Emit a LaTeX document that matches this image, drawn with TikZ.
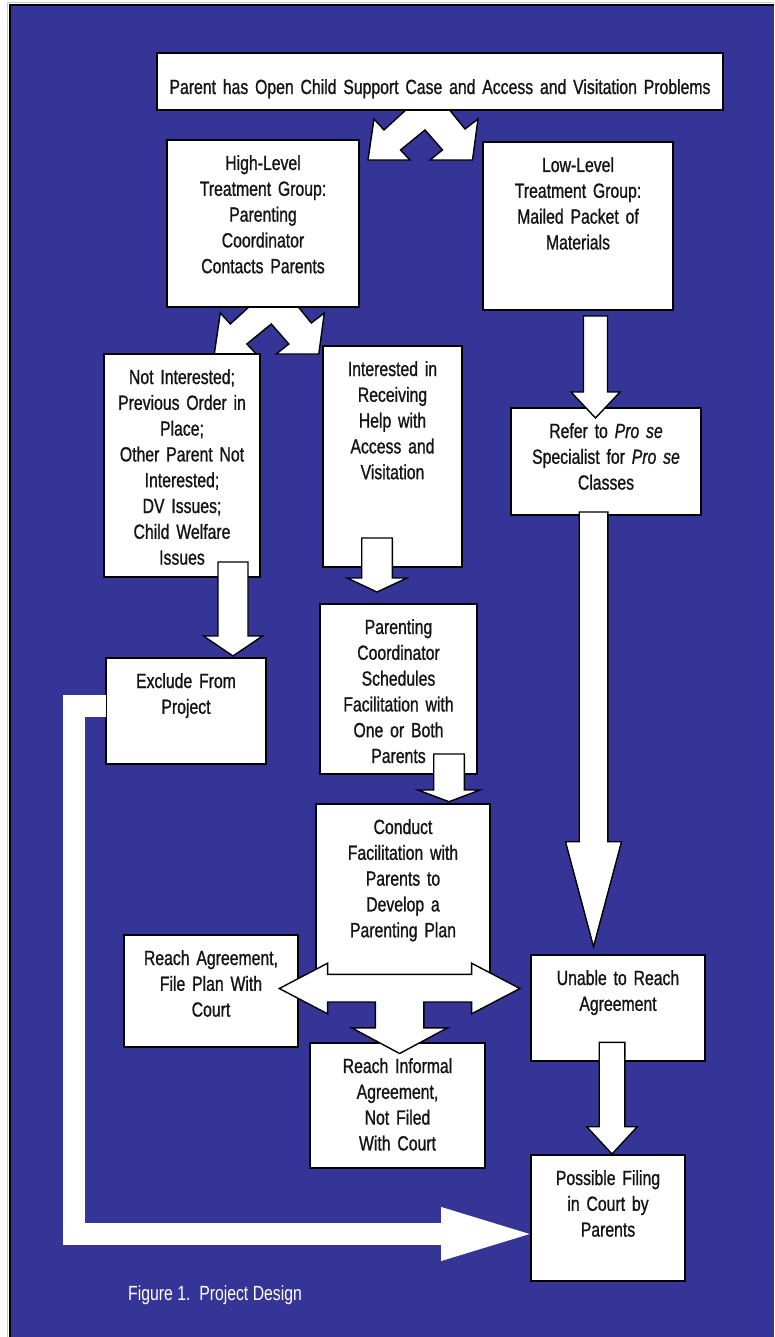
\documentclass[tikz,border=0pt]{standalone}
\usepackage{fontspec}
\setmainfont{Liberation Sans}[FakeStretch=0.77]
\newfontfamily\boxfamily{Liberation Sans}[FakeStretch=0.77, FakeBold=1, WordSpace=0.55]
\usepackage{tikz}
\usetikzlibrary{arrows.meta, calc}
\definecolor{paneblue}{RGB}{53, 53, 151}
\definecolor{framegray}{RGB}{200, 200, 200}
\definecolor{inkblack}{RGB}{20, 20, 20}

% block arrow pointing down: from, to, shaft half width, head half width, head length
\newcommand{\downblock}[5]{%
  \draw[blockarrow] ($(#1)+(-#3,0)$) -- ($(#2)+(-#3,-#5)$) -- ($(#2)+(-#4,-#5)$) -- (#2)
    -- ($(#2)+(#4,-#5)$) -- ($(#2)+(#3,-#5)$) -- ($(#1)+(#3,0)$) -- cycle;}
% bent two-headed arrow under a box
\newcommand{\splitblock}[1]{%
  \draw[blockarrow, shift={(#1)}] (0,0) -- (6,-41) -- (16,-30) -- (40,-52) -- (80,-52) -- (97,-31)
    -- (110,-41) -- (104.5,0) -- (62,0) -- (74.5,-10) -- (57,-30) -- (32.5,-10) -- (42,0) -- cycle;}

\begin{document}
\begin{tikzpicture}[
    x=1pt, y=-1pt,
    box/.style 2 args={draw=black, line width=2pt, fill=white, text=inkblack, inner sep=0pt, outer sep=0pt, anchor=north west, text width=#1pt, text height=30pt, text depth={#2pt-30pt}, align=center, font=\boxfamily\fontsize{20.5}{25.8}\selectfont},
    blockarrow/.style={draw=black, fill=white, line width=1.4pt, line join=miter},
    loopline/.style={draw=white, line width=22pt, line join=miter, -{Triangle[length=100pt, width=46pt]}}
  ]
  \useasboundingbox (0,0) rectangle (774,1337);
  \fill[white] (0,0) rectangle (774,1337);
  \fill[paneblue] (10,5) rectangle (774,1337);
  \draw[framegray, line width=1pt] (7.5,1337) -- (7.5,2.5) -- (774,2.5);
  \draw[black, line width=2pt] (10,1337) -- (10,5) -- (774,5);

  % split arrows sit behind the boxes
  \coordinate (split-top) at (368,160);
  \coordinate (split-high) at (214.3,354);
  \splitblock{split-top}
  \splitblock{split-high}

  \node[box={566}{57}, text height=41pt, text depth=16pt] (top) at (157,53) {Parent has Open Child Support Case and Access and Visitation Problems};
  \node[box={192}{167}] (high) at (167,140) {High-Level\\Treatment Group:\\Parenting\\Coordinator\\Contacts Parents};
  \node[box={190}{168}] (low) at (483,142) {Low-Level\\Treatment Group:\\Mailed Packet of\\Materials};
  \node[box={156}{223}] (notint) at (104,354) {Not Interested;\\Previous Order in\\Place;\\Other Parent Not\\Interested;\\DV Issues;\\Child Welfare\\Issues};
  \node[box={139}{221}] (interest) at (323,346) {Interested in\\Receiving\\Help with\\Access and\\Visitation};
  \node[box={190}{107}] (refer) at (511,408) {Refer to \textit{Pro se}\\Specialist for \textit{Pro se}\\Classes};
  \node[box={160}{106}] (exclude) at (106,658) {Exclude From\\Project};
  \node[box={157}{170}] (sched) at (320,604) {Parenting\\Coordinator\\Schedules\\Facilitation with\\One or Both\\Parents};
  \node[box={174}{171}] (conduct) at (316,804) {Conduct\\Facilitation with\\Parents to\\Develop a\\Parenting Plan};
  \node[box={174}{112}] (agree) at (124,935) {Reach Agreement,\\File Plan With\\Court};
  \node[box={174}{106}] (unable) at (531,955) {Unable to Reach\\Agreement};
  \node[box={175}{125}] (informal) at (310,1043) {Reach Informal\\Agreement,\\Not Filed\\With Court};
  \node[box={154}{126}] (filing) at (531,1155) {Possible Filing\\in Court by\\Parents};

  \node[anchor=base west, text=white, inner sep=0pt, font=\fontsize{20.5}{25.8}\selectfont] (caption) at (128,1300) {Figure 1.\ \ Project Design};

  % excluded cases loop round to court filing
  \draw[loopline] ($(exclude.west)+(0,-5)$) -- ++(-32,0) |- ($(filing.west)+(10,16)$);

  % three-way arrow out of the facilitation
  \coordinate (fork) at (399.6,988.5);
  \draw[blockarrow, shift={(fork)}] (-120.3,0) -- (-72,-25.3) -- (-72,-14.2) -- (72,-14.2) -- (72,-25.3)
    -- (120.3,0) -- (72,25.3) -- (72,13.5) -- (24.2,13.5) -- (24.2,39.4) -- (47.8,39.4) -- (0,65)
    -- (-47.8,39.4) -- (-24.2,39.4) -- (-24.2,13.5) -- (-72,13.5) -- (-72,25.3) -- cycle;

  \coordinate (ni-out) at (233,562);
  \coordinate (ex-in) at (233,656);
  \coordinate (in-out) at (377,538);
  \coordinate (sc-in) at (377,592);
  \coordinate (lo-out) at (595.5,316);
  \coordinate (re-in) at (595.5,418);
  \coordinate (re-out) at (593.5,512);
  \coordinate (un-in) at (593.5,946.7);
  \coordinate (sc-out) at (449,754);
  \coordinate (co-in) at (449,801.7);
  \coordinate (un-out) at (612,1042.3);
  \coordinate (fi-in) at (612,1154);

  \downblock{ni-out}{ex-in}{15}{29.5}{20}
  \downblock{in-out}{sc-in}{15.3}{30}{14}
  \downblock{lo-out}{re-in}{12}{24.5}{26}
  \downblock{re-out}{un-in}{14.3}{28}{105}
  \downblock{sc-out}{co-in}{15.3}{31}{11.7}
  \downblock{un-out}{fi-in}{12.8}{25.3}{27.3}
\end{tikzpicture}
\end{document}
